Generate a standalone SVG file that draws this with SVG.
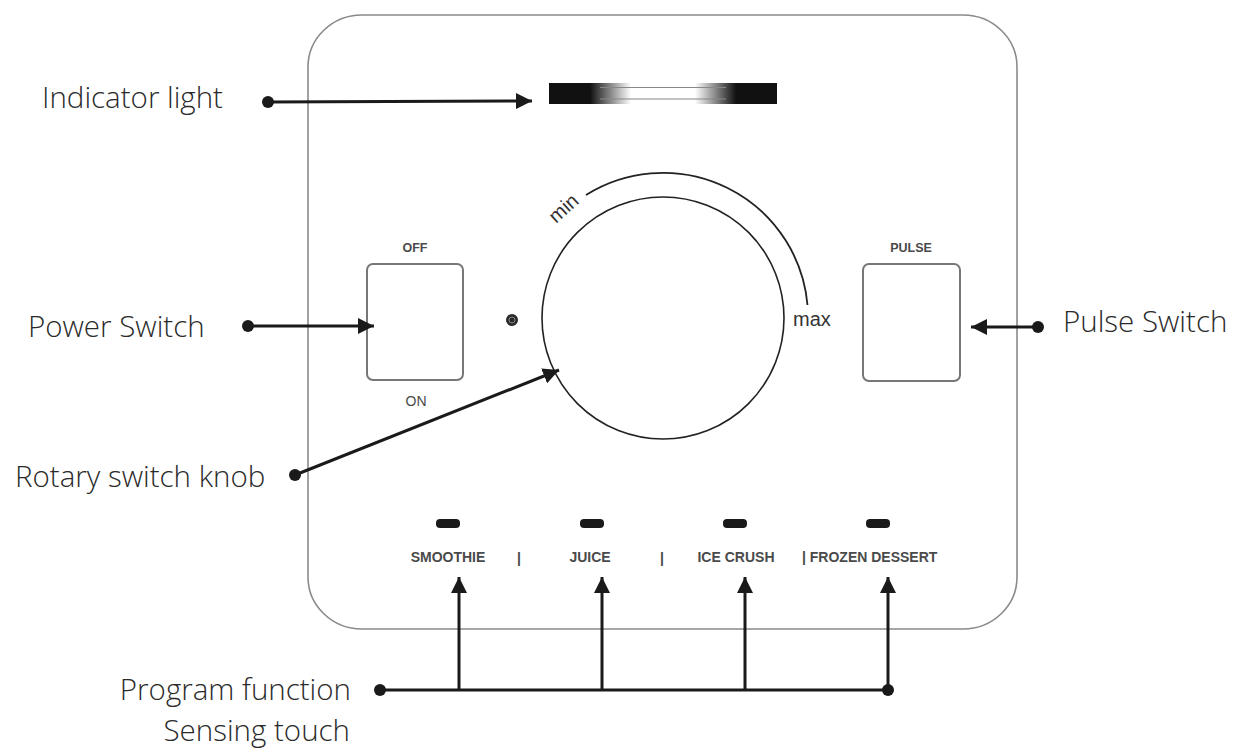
<svg xmlns="http://www.w3.org/2000/svg" width="1240" height="756" viewBox="0 0 1240 756">
<style>
.lbl{font-family:"Open Sans","Liberation Sans",sans-serif;font-size:29.5px;font-weight:300;fill:#2a2a2a}
.cap{font-family:"Liberation Sans",Arial,sans-serif;font-weight:bold;fill:#4a4a4a}
.prog{font-family:"Liberation Sans",Arial,sans-serif;font-weight:bold;font-size:14px;fill:#4a4a4a}
.scale{font-family:"Liberation Sans",Arial,sans-serif;font-size:20px;fill:#333}
.conn{stroke:#1a1a1a;stroke-width:3;fill:none}
.dot{fill:#1a1a1a}
.sw{fill:#fff;stroke:#777;stroke-width:2}
</style>
<defs>
<marker id="ah" markerUnits="userSpaceOnUse" markerWidth="18" markerHeight="16" refX="16" refY="8" orient="auto">
<path d="M0,0 L16,8 L0,16 Z" fill="#1a1a1a"/>
</marker>
<linearGradient id="ind" x1="0" y1="0" x2="1" y2="0">
<stop offset="0" stop-color="#111"/>
<stop offset="0.18" stop-color="#111"/>
<stop offset="0.36" stop-color="#fff"/>
<stop offset="0.64" stop-color="#fff"/>
<stop offset="0.82" stop-color="#111"/>
<stop offset="1" stop-color="#111"/>
</linearGradient>
</defs>
<rect width="1240" height="756" fill="#fff"/>

<g id="panel">
<rect x="308" y="15" width="709" height="614" rx="54" ry="52" fill="#fff" stroke="#8a8a8a" stroke-width="1.6"/>
</g>

<g id="indicator">
<rect x="549" y="83" width="228" height="21" fill="url(#ind)"/>
<line x1="600" y1="87.5" x2="726" y2="87.5" stroke="#888" stroke-width="1.2"/>
<line x1="600" y1="99" x2="726" y2="99" stroke="#888" stroke-width="1.2"/>
</g>

<g id="power-switch">
<text class="cap" x="415" y="252" font-size="12.5" text-anchor="middle">OFF</text>
<rect class="sw" x="367" y="264" width="96" height="116" rx="6"/>
<text class="cap" x="416" y="406" font-size="14" text-anchor="middle" style="font-weight:normal">ON</text>
</g>

<g id="led">
<circle cx="512" cy="320" r="6" fill="#2a2a2a"/>
<circle cx="512" cy="320" r="3" fill="none" stroke="#888" stroke-width="1"/>
</g>

<g id="knob">
<circle cx="663" cy="318" r="121" fill="#fff" stroke="#222" stroke-width="1.6"/>
<path d="M586,195 A145,145 0 0 1 807.5,305" fill="none" stroke="#222" stroke-width="1.8"/>
<text class="scale" x="556" y="224" transform="rotate(-42 556 224)">min</text>
<text class="scale" x="793" y="326">max</text>
</g>

<g id="pulse-switch">
<text class="cap" x="911" y="252" font-size="12.5" text-anchor="middle">PULSE</text>
<rect class="sw" x="863" y="264" width="97" height="117" rx="6"/>
</g>

<g id="programs">
<rect x="436" y="519" width="24" height="9" rx="4" fill="#1a1a1a"/>
<rect x="580" y="519" width="24" height="9" rx="4" fill="#1a1a1a"/>
<rect x="723" y="519" width="24" height="9" rx="4" fill="#1a1a1a"/>
<rect x="866" y="519" width="24" height="9" rx="4" fill="#1a1a1a"/>
<text class="prog" x="448" y="562" text-anchor="middle">SMOOTHIE</text>
<text class="prog" x="519" y="563" text-anchor="middle" font-size="16" fill="#222">|</text>
<text class="prog" x="590" y="562" text-anchor="middle">JUICE</text>
<text class="prog" x="662" y="563" text-anchor="middle" font-size="16" fill="#222">|</text>
<text class="prog" x="736" y="562" text-anchor="middle">ICE CRUSH</text>
<text class="prog" x="802" y="562">| FROZEN DESSERT</text>
</g>

<g id="labels">
<text class="lbl" x="42" y="108">Indicator light</text>
<text class="lbl" x="28" y="337">Power Switch</text>
<text class="lbl" x="15" y="487">Rotary switch knob</text>
<text class="lbl" x="1063" y="332">Pulse Switch</text>
<text class="lbl" x="351" y="700" text-anchor="end">Program function</text>
<text class="lbl" x="350" y="741" text-anchor="end">Sensing touch</text>
</g>

<g id="connectors">
<circle class="dot" cx="268" cy="102" r="6"/>
<line class="conn" x1="268" y1="102" x2="532" y2="101" marker-end="url(#ah)"/>
<circle class="dot" cx="248" cy="326" r="6"/>
<line class="conn" x1="248" y1="326" x2="374" y2="326" marker-end="url(#ah)"/>
<circle class="dot" cx="295" cy="475" r="6"/>
<line class="conn" x1="295" y1="475" x2="559" y2="370" marker-end="url(#ah)"/>
<circle class="dot" cx="1038" cy="327" r="6"/>
<line class="conn" x1="1038" y1="327" x2="971" y2="327" marker-end="url(#ah)"/>
<circle class="dot" cx="380" cy="690" r="6"/>
<circle class="dot" cx="888" cy="690" r="6"/>
<line class="conn" x1="380" y1="690" x2="888" y2="690"/>
<line class="conn" x1="459" y1="690" x2="459" y2="577" marker-end="url(#ah)"/>
<line class="conn" x1="602" y1="690" x2="602" y2="577" marker-end="url(#ah)"/>
<line class="conn" x1="745" y1="690" x2="745" y2="577" marker-end="url(#ah)"/>
<line class="conn" x1="888" y1="690" x2="888" y2="577" marker-end="url(#ah)"/>
</g>
</svg>
